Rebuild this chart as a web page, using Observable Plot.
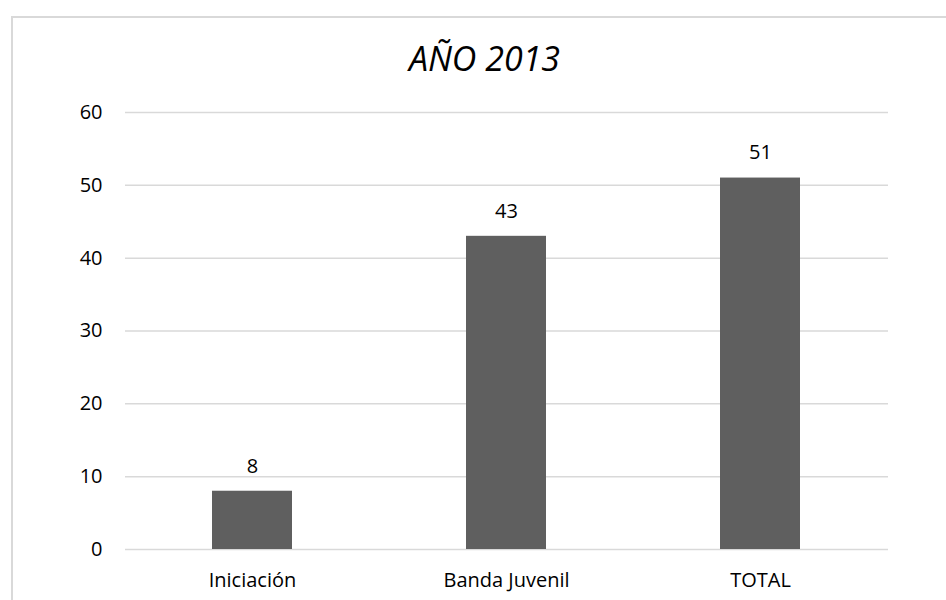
<!DOCTYPE html>
<html>
<head>
<meta charset="utf-8">
<script src="https://cdn.jsdelivr.net/npm/d3@7"></script>
<script src="https://cdn.jsdelivr.net/npm/@observablehq/plot@0.6"></script>
<style>
  html, body { margin: 0; padding: 0; background: #fff; }
  #wrap { position: relative; width: 946px; height: 600px; overflow: hidden; font-family: "Open Sans", "Noto Sans", sans-serif; }
  #frame { position: absolute; left: 11px; top: 16px; width: 940px; height: 600px; border: 2px solid #d9d9d9; box-sizing: border-box; }
  #title { position: absolute; left: 0; width: 969px; top: 35px; line-height: 46px; text-align: center; font-size: 34px; font-style: italic; color: #000; }
  #chart { position: absolute; left: 0; top: 0; }
</style>
</head>
<body>
<div id="wrap">
  <div id="frame"></div>
  <div id="chart"></div>
  <div id="title">AÑO 2013</div>
</div>
<script>
const categories = ["Iniciación", "Banda Juvenil", "TOTAL"];
const values = [8, 43, 51];
const yTicks = [0, 10, 20, 30, 40, 50, 60];

const data = categories.map((c, i) => ({category: c, value: values[i]}));

const chart = Plot.plot({
  width: 946,
  height: 600,
  marginLeft: 125,
  marginRight: 58,
  marginTop: 112,
  marginBottom: 51,
  style: {fontFamily: "'Open Sans', 'Noto Sans', sans-serif", fontSize: "20px", color: "#000", background: "transparent"},
  x: {domain: categories, paddingInner: 0.685, paddingOuter: 0.3425, label: null},
  y: {domain: [0, 60], label: null},
  marks: [
    Plot.ruleY(yTicks, {stroke: "#d9d9d9", strokeWidth: 1.5}),
    Plot.barY(data, {x: "category", y: "value", fill: "#5f5f5f"}),
    Plot.text(data, {x: "category", y: "value", text: d => String(d.value), dy: -25, fontSize: 20, fill: "#000"}),
    Plot.axisY({ticks: yTicks, tickSize: 0, tickPadding: 23, label: null, fontSize: 20}),
    Plot.axisX({tickSize: 0, tickPadding: 23, label: null, fontSize: 20})
  ]
});
document.getElementById("chart").appendChild(chart);
</script>
</body>
</html>
